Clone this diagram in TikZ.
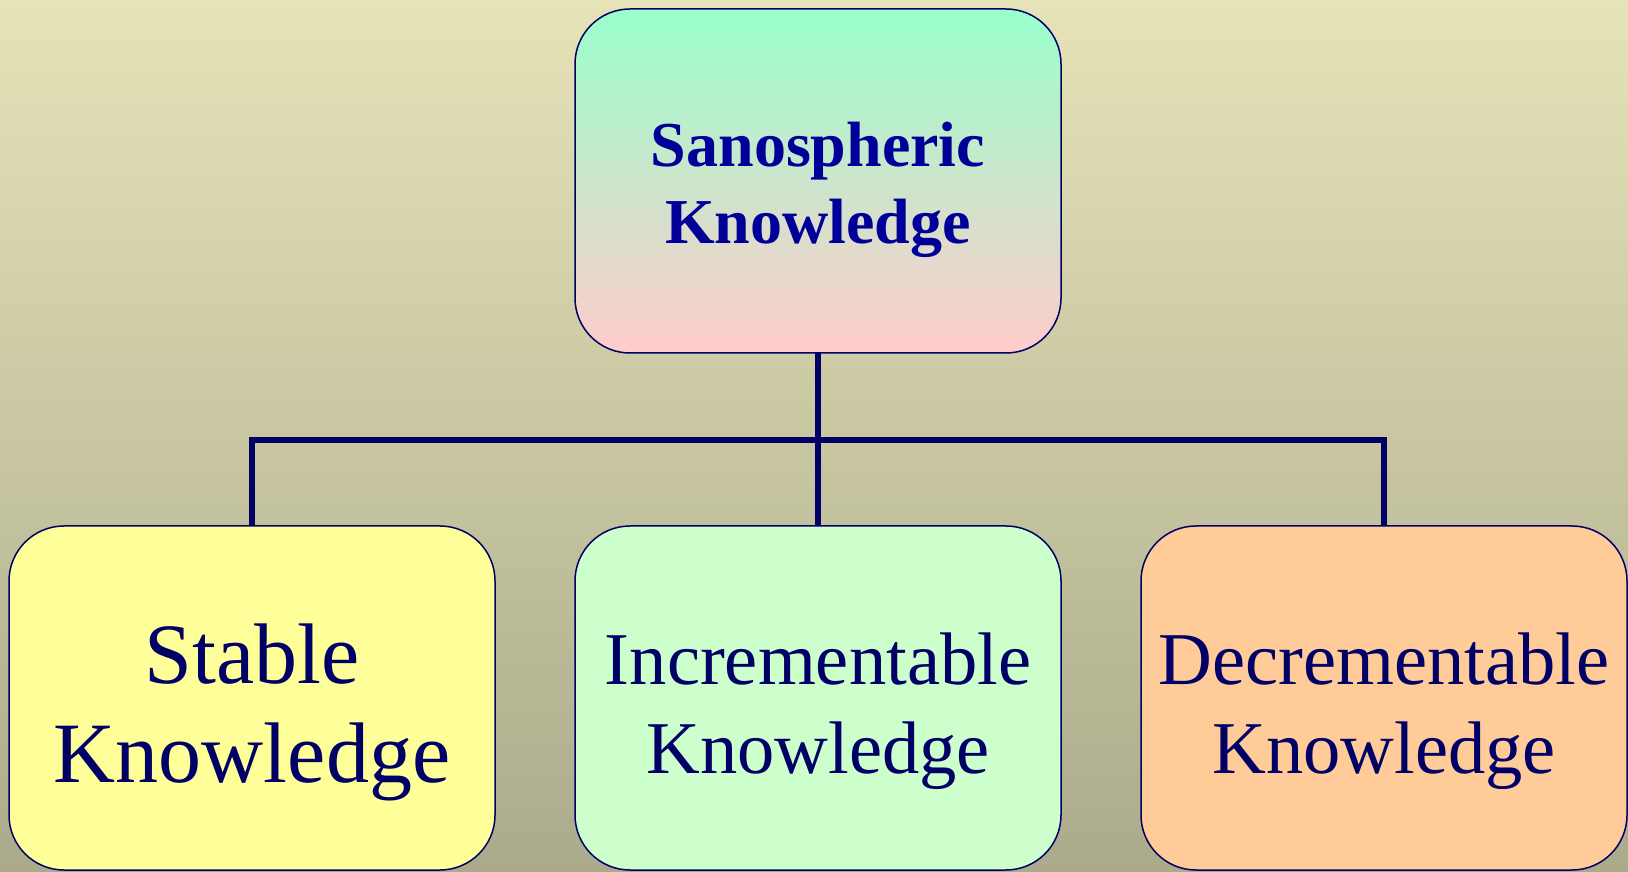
\documentclass[tikz,border=0pt]{standalone}
\usepackage{fontspec}
\setmainfont{Liberation Serif}
\definecolor{bgtop}{HTML}{E6E3B8}
\definecolor{bgbot}{HTML}{ABAB8C}
\definecolor{navy}{HTML}{000066}
\definecolor{titleblue}{HTML}{000099}
\definecolor{boxyellow}{HTML}{FFFF99}
\definecolor{boxgreen}{HTML}{CCFFCC}
\definecolor{boxorange}{HTML}{FFCC99}
\definecolor{gradtop}{HTML}{99FFCC}
\definecolor{gradbot}{HTML}{FFCCCC}
\tikzset{
  kbox/.style={draw=navy, line width=1.5pt, rounded corners=55pt, minimum width=486pt, minimum height=344pt, inner sep=0pt, outer sep=0pt},
  ktext/.style={align=center, text=navy, inner sep=0pt},
  conn/.style={draw=navy, line width=5.5pt, line join=miter}
}
\begin{document}
\begin{tikzpicture}[x=1pt,y=1pt]
\fill[top color=bgtop, bottom color=bgbot] (0,0) rectangle (1628,871);
\useasboundingbox (0,0) rectangle (1628,871);
\node[kbox, top color=gradtop, bottom color=gradbot] (top) at (818,690) {};
\node[kbox, fill=boxyellow] (stable) at (252,173) {};
\node[kbox, fill=boxgreen] (incr) at (818,173) {};
\node[kbox, fill=boxorange] (decr) at (1384,173) {};
\node[ktext, text=titleblue, font=\fontsize{64}{77}\selectfont\bfseries] (top-t) at ([yshift=-9pt]top.center) {Sanospheric\\Knowledge};
\node[ktext, font=\fontsize{86}{99}\selectfont] (stable-t) at ([yshift=-14pt]stable.center) {Stable\\Knowledge};
\node[ktext, font=\fontsize{74.5}{89}\selectfont] (incr-t) at ([yshift=-13pt]incr.center) {Incrementable\\Knowledge};
\node[ktext, font=\fontsize{74.5}{89}\selectfont] (decr-t) at ([yshift=-13pt]decr.center) {Decrementable\\Knowledge};
\coordinate (bus) at (818,431);
\draw[conn] (top.south) -- (incr.north);
\draw[conn] (stable.north) -- (stable.north |- bus) -- (decr.north |- bus) -- (decr.north);
\end{tikzpicture}
\end{document}
